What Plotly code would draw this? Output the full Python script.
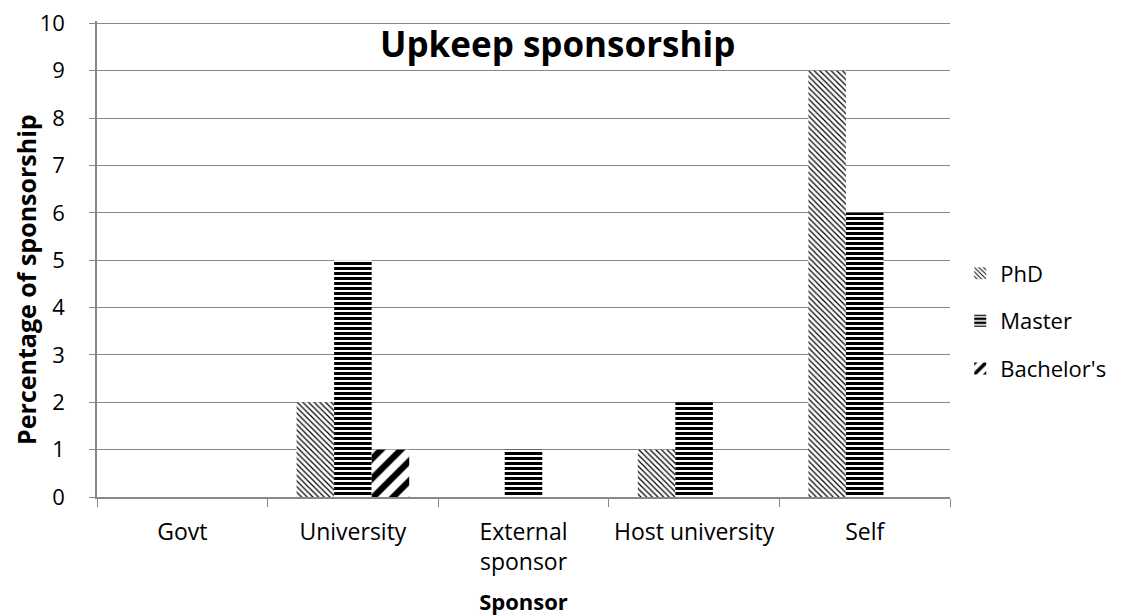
import plotly.graph_objects as go

categories = ["Govt", "University", "External<br>sponsor", "Host university", "Self"]
phd = [0, 2, 0, 1, 9]
master = [0, 5, 1, 2, 6]
bachelor = [0, 1, 0, 0, 0]
y_ticks = list(range(0, 11))

font = "Open Sans, Noto Sans, sans-serif"


def pattern(shape, size, solidity):
    return dict(shape=shape, size=size, solidity=solidity, fgcolor="black",
                bgcolor="white", fgopacity=1, fillmode="replace")


fig = go.Figure()
fig.add_trace(go.Bar(x=categories, y=phd, name="PhD", legendgroup="a",
                     marker=dict(line=dict(width=0), pattern=pattern("\\", 4, 0.3))))
fig.add_trace(go.Bar(x=categories, y=master, name="Master", legendgroup="b",
                     marker=dict(line=dict(width=0), pattern=pattern("-", 5, 0.6))))
fig.add_trace(go.Bar(x=categories, y=bachelor, name="Bachelor's", legendgroup="c",
                     marker=dict(line=dict(width=0), pattern=pattern("/", 14, 0.45))))

fig.update_layout(
    width=1118, height=608,
    margin=dict(l=89, r=176, t=13, b=119),
    paper_bgcolor="white", plot_bgcolor="white",
    font=dict(family=font, size=23, color="black"),
    barmode="group", bargap=0.34, bargroupgap=0,
    showlegend=True,
    legend=dict(x=1.012, y=0.37, yanchor="middle", xanchor="left",
                font=dict(size=22), tracegroupgap=16),
    annotations=[
        dict(text="<b>Upkeep sponsorship</b>", x=0.54, y=1.0,
             xref="paper", yref="paper", xanchor="center", yanchor="middle",
             yshift=-22, showarrow=False, font=dict(size=35, family=font)),
        dict(text="<b>Percentage of sponsorship</b>", x=0, y=0.456, textangle=-90,
             xref="paper", yref="paper", xanchor="center", yanchor="middle",
             xshift=-71, showarrow=False, font=dict(size=25, family=font)),
    ],
)
fig.update_yaxes(
    range=[0, 10.05], tickvals=y_ticks, showgrid=True, gridcolor="#888888", gridwidth=1,
    showline=True, linecolor="#888888", linewidth=1.5, automargin=False,
    ticks="outside", ticklen=6, tickcolor="#888888", ticklabelstandoff=20,
    ticklabeloverflow="allow", tickfont=dict(size=22),
    zeroline=False,
)
fig.update_xaxes(
    showline=True, linecolor="#888888", linewidth=1.5, automargin=False,
    ticks="outside", ticklen=8, tickcolor="#888888", tickson="boundaries",
    ticklabelstandoff=14,
    title=dict(text="<b>Sponsor</b>", font=dict(size=22), standoff=29),
    tickangle=0,
)

fig.write_html("out.html")
